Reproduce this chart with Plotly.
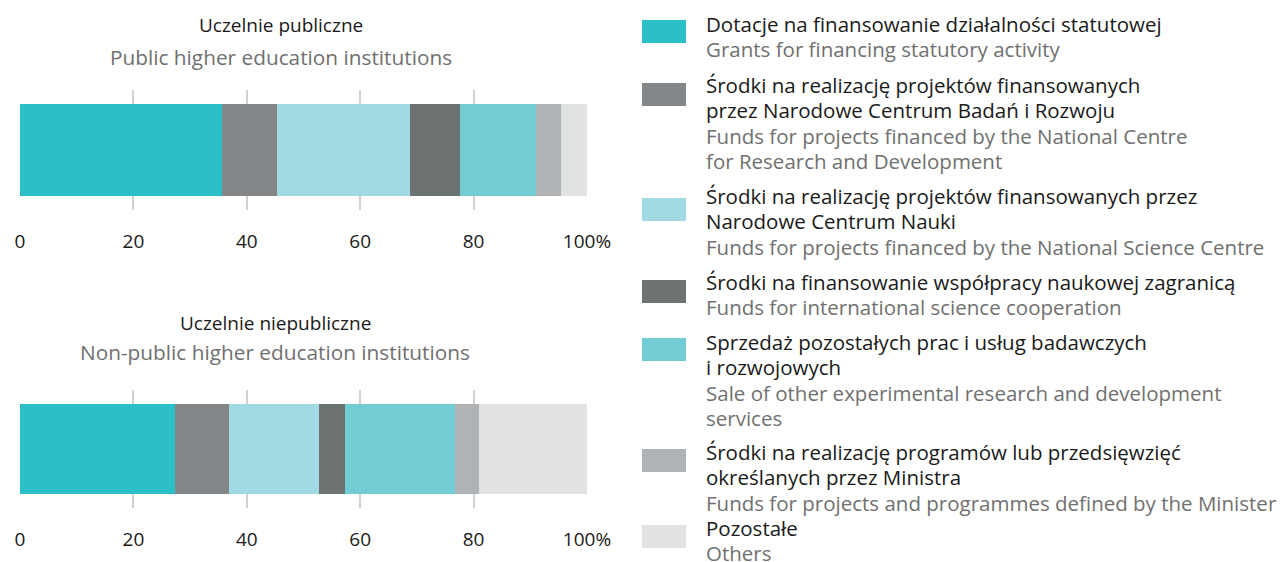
import plotly.graph_objects as go

# shares (%)
categories = [
    "Dotacje na finansowanie działalności statutowej",
    "Środki NCBR",
    "Środki NCN",
    "Współpraca zagraniczna",
    "Sprzedaż prac i usług",
    "Programy Ministra",
    "Pozostałe",
]
public_values = [35.6, 9.8, 23.3, 8.9, 13.4, 4.5, 4.5]
nonpublic_values = [27.4, 9.4, 16.0, 4.6, 19.4, 4.1, 19.1]
colors = ["#2BBFC7", "#83878A", "#A1DAE2", "#6D7372", "#71CCD4", "#B0B3B6", "#E1E3E2"]

tick_vals = [0, 20, 40, 60, 80, 100]
tick_text = ["0", "20", "40", "60", "80", "100%"]

legend_pl = [
    ["Dotacje na finansowanie działalności statutowej"],
    ["Środki na realizację projektów finansowanych", "przez Narodowe Centrum Badań i Rozwoju"],
    ["Środki na realizację projektów finansowanych przez", "Narodowe Centrum Nauki"],
    ["Środki na finansowanie współpracy naukowej zagranicą"],
    ["Sprzedaż pozostałych prac i usług badawczych", "i rozwojowych"],
    ["Środki na realizację programów lub przedsięwzięć", "określanych przez Ministra"],
    ["Pozostałe"],
]
legend_en = [
    ["Grants for financing statutory activity"],
    ["Funds for projects financed by the National Centre", "for Research and Development"],
    ["Funds for projects financed by the National Science Centre"],
    ["Funds for international science cooperation"],
    ["Sale of other experimental research and development", "services"],
    ["Funds for projects and programmes defined by the Minister"],
    ["Others"],
]

W, H = 1280, 562
FONT = "Open Sans"
BLACK = "#1a1a1a"
GRAY = "#707070"

# legend layout in pixels: centre of first text line, top of colour box
legend_line0 = [24, 85, 196, 282, 342, 452, 528]
legend_box_top = [20, 83, 198, 280, 338, 449, 525]
LINE_H = 25.3


def px_x(x):
    return x / W


def px_y(y):
    return 1 - y / H


fig = go.Figure()

for i, cat in enumerate(categories):
    fig.add_trace(go.Bar(
        y=[""], x=[public_values[i]], orientation="h", name=cat,
        marker=dict(color=colors[i], line=dict(width=0)),
        width=0.76, xaxis="x", yaxis="y", showlegend=False,
    ))
    fig.add_trace(go.Bar(
        y=[""], x=[nonpublic_values[i]], orientation="h", name=cat,
        marker=dict(color=colors[i], line=dict(width=0)),
        width=0.77, xaxis="x2", yaxis="y2", showlegend=False,
    ))

xaxis_common = dict(
    range=[0, 100], tickvals=tick_vals, ticktext=tick_text,
    showgrid=True, gridcolor="#D2D2D2", gridwidth=2, zeroline=False,
    showline=False, ticks="", ticklabelstandoff=18, automargin=False,
    tickfont=dict(family=FONT, size=19, color=BLACK),
    domain=[px_x(20), px_x(587)], fixedrange=True,
)
yaxis_common = dict(showgrid=False, zeroline=False, showticklabels=False,
                    automargin=False, range=[-0.5, 0.5], fixedrange=True)

annotations = []
# chart titles
titles = [
    ("Uczelnie publiczne", "Public higher education institutions", 25, 57, 281),
    ("Uczelnie niepubliczne", "Non-public higher education institutions", 323, 352, 275),
]
for pl, en, y1, y2, xc in titles:
    annotations.append(dict(text=pl, x=px_x(xc), y=px_y(y1), xref="paper", yref="paper",
                            showarrow=False, xanchor="center", yanchor="middle",
                            font=dict(family=FONT, size=19, color=BLACK)))
    annotations.append(dict(text=en, x=px_x(xc), y=px_y(y2), xref="paper", yref="paper",
                            showarrow=False, xanchor="center", yanchor="middle",
                            font=dict(family=FONT, size=20.8, color=GRAY)))

shapes = []
for i in range(len(categories)):
    lines = [(t, BLACK, 20.5) for t in legend_pl[i]] + [(t, GRAY, 20.5) for t in legend_en[i]]
    for k, (t, c, s) in enumerate(lines):
        annotations.append(dict(text=t, x=px_x(704), y=px_y(legend_line0[i] + k * LINE_H),
                                xref="paper", yref="paper", showarrow=False,
                                xanchor="left", yanchor="middle",
                                font=dict(family=FONT, size=s, color=c)))
    top = legend_box_top[i]
    shapes.append(dict(type="rect", xref="paper", yref="paper",
                       x0=px_x(642), x1=px_x(686), y0=px_y(top + 23), y1=px_y(top),
                       fillcolor=colors[i], line=dict(width=0)))

fig.update_layout(
    width=W, height=H,
    margin=dict(l=0, r=0, t=0, b=0),
    barmode="stack", bargap=0,
    plot_bgcolor="white", paper_bgcolor="white",
    hovermode=False,
    xaxis=dict(**xaxis_common, anchor="y"),
    yaxis=dict(**yaxis_common, domain=[px_y(210), px_y(90)], anchor="x"),
    xaxis2=dict(**xaxis_common, anchor="y2"),
    yaxis2=dict(**yaxis_common, domain=[px_y(508), px_y(390)], anchor="x2"),
    annotations=annotations,
    shapes=shapes,
)

# drop the page's default body margin so the figure sits at the window corner
fig.write_html("out.html", config={"displayModeBar": False},
               post_script="document.body.style.margin='0';")
